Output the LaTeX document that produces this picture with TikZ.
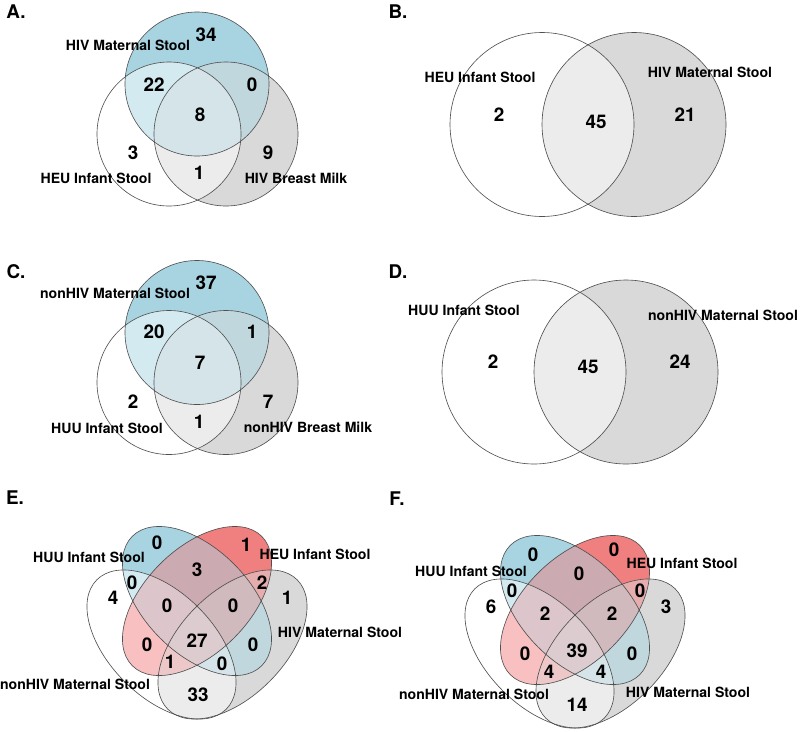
\documentclass[tikz,border=0pt]{standalone}
\usepackage{fontspec}
\setmainfont{TeX Gyre Heros}

% single sets
\definecolor{cB}{RGB}{168,212,226}
\definecolor{cR}{RGB}{240,128,128}
\definecolor{cG}{RGB}{217,217,217}
% overlaps (mean of the single colours, white counted as 255)
\definecolor{cBR}{RGB}{204,170,177}
\definecolor{cBG}{RGB}{193,215,222}
\definecolor{cBW}{RGB}{212,234,241}
\definecolor{cRG}{RGB}{229,173,173}
\definecolor{cRW}{RGB}{248,192,192}
\definecolor{cGW}{RGB}{236,236,236}
\definecolor{cBRG}{RGB}{208,186,190}
\definecolor{cBRW}{RGB}{221,198,203}
\definecolor{cBGW}{RGB}{213,228,233}
\definecolor{cRGW}{RGB}{237,200,200}
\definecolor{cBRGW}{RGB}{220,203,207}
\definecolor{vline}{HTML}{505050}

\tikzset{
  lbl/.style={font=\fontsize{10}{11}\selectfont\bfseries, inner sep=0pt},
  num/.style={font=\fontsize{13.4}{15}\selectfont\bfseries, inner sep=0pt},
  tag/.style={font=\fontsize{13.4}{15}\selectfont\bfseries, inner sep=0pt},
  rim/.style={draw=vline, line width=0.45pt},
  oval/.style={x radius=91.5, y radius=52.3},
  % the four ellipses of E (F is the same, shifted)
  setHUU/.style={shift={(197,601)}, rotate=-45},
  setHEU/.style={shift={(197,601)}, rotate=45},
  setHIV/.style={shift={(232.5,644.5)}, rotate=45},
  setNon/.style={shift={(161.5,644.5)}, rotate=-45},
}

\begin{document}
\begin{tikzpicture}[x=0.025cm, y=-0.025cm]
    \path[use as bounding box] (0,0) rectangle (800,731);

    % A. and C. three circles
    \foreach \dy in {0, 248.5} {
      \begin{scope}[shift={(0,\dy)}]
        \fill[cB] (197,84) circle [radius=72];
        \fill[cG] (226,134) circle [radius=72];
        \fill[white] (169,134) circle [radius=72];
        \begin{scope}
          \clip (197,84) circle [radius=72];
          \fill[cBG] (226,134) circle [radius=72];
        \end{scope}
        \begin{scope}
          \clip (197,84) circle [radius=72];
          \fill[cBW] (169,134) circle [radius=72];
        \end{scope}
        \begin{scope}
          \clip (226,134) circle [radius=72];
          \fill[cGW] (169,134) circle [radius=72];
        \end{scope}
        \begin{scope}
          \clip (197,84) circle [radius=72];
          \clip (226,134) circle [radius=72];
          \fill[cBGW] (169,134) circle [radius=72];
        \end{scope}
        \draw[rim] (197,84) circle [radius=72];
        \draw[rim] (226,134) circle [radius=72];
        \draw[rim] (169,134) circle [radius=72];
      \end{scope}
    }

    \node[tag] (tagA) at (16,12) {A.};
    \node[lbl] (aMat)  at (128,45)  {HIV Maternal Stool};
    \node[lbl] (aInf)  at (96,178)  {HEU Infant Stool};
    \node[lbl] (aMilk) at (296,178) {HIV Breast Milk};
    \node[num] (a1) at (206,35)  {34};
    \node[num] (a2) at (154,85)  {22};
    \node[num] (a3) at (252,85)  {0};
    \node[num] (a4) at (200,115) {8};
    \node[num] (a5) at (133,153) {3};
    \node[num] (a6) at (268,153) {9};
    \node[num] (a7) at (199,173) {1};

    \node[tag] (tagC) at (16,272) {C.};
    \node[lbl] (cMat)  at (115,293) {nonHIV Maternal Stool};
    \node[lbl] (cInf)  at (107,428) {HUU Infant Stool};
    \node[lbl] (cMilk) at (308,427) {nonHIV Breast Milk};
    \node[num] (c1) at (206,283) {37};
    \node[num] (c2) at (154,332) {20};
    \node[num] (c3) at (252,332) {1};
    \node[num] (c4) at (200,363) {7};
    \node[num] (c5) at (133,402) {2};
    \node[num] (c6) at (268,402) {7};
    \node[num] (c7) at (199,422) {1};

    % B. and D. two circles
    \foreach \dx/\dy in {0/0, -8/247.5} {
      \begin{scope}[shift={(\dx,\dy)}]
        \fill[cG] (634,124.5) circle [radius=92];
        \begin{scope}
          \clip (634,124.5) circle [radius=92];
          \fill[cGW] (542,124.5) circle [radius=92];
        \end{scope}
        \draw[rim] (634,124.5) circle [radius=92];
        \draw[rim] (542,124.5) circle [radius=92];
      \end{scope}
    }

    \node[tag] (tagB) at (398,12) {B.};
    \node[lbl] (bInf) at (480,77) {HEU Infant Stool};
    \node[lbl] (bMat) at (710,72) {HIV Maternal Stool};
    \node[num] (b1) at (499,115) {2};
    \node[num] (b2) at (596,122) {45};
    \node[num] (b3) at (685,115) {21};

    \node[tag] (tagD) at (398,272) {D.};
    \node[lbl] (dInf) at (464,310) {HUU Infant Stool};
    \node[lbl] (dMat) at (723,315) {nonHIV Maternal Stool};
    \node[num] (d1) at (493,362) {2};
    \node[num] (d2) at (588,367) {45};
    \node[num] (d3) at (680,362) {24};

    % E. and F. four ellipses
    \foreach \dx/\dy in {0/0, 378/9} {
      \begin{scope}[shift={(\dx,\dy)}]
        % one set
        \fill[cB, setHUU] (0,0) ellipse [oval];
        \fill[cR, setHEU] (0,0) ellipse [oval];
        \fill[cG, setHIV] (0,0) ellipse [oval];
        \fill[white, setNon] (0,0) ellipse [oval];
        % two sets
        \begin{scope}
          \clip[setHUU] (0,0) ellipse [oval];
          \fill[cBR, setHEU] (0,0) ellipse [oval];
          \fill[cBG, setHIV] (0,0) ellipse [oval];
          \fill[cBW, setNon] (0,0) ellipse [oval];
        \end{scope}
        \begin{scope}
          \clip[setHEU] (0,0) ellipse [oval];
          \fill[cRG, setHIV] (0,0) ellipse [oval];
          \fill[cRW, setNon] (0,0) ellipse [oval];
        \end{scope}
        \begin{scope}
          \clip[setHIV] (0,0) ellipse [oval];
          \fill[cGW, setNon] (0,0) ellipse [oval];
        \end{scope}
        % three sets
        \begin{scope}
          \clip[setHUU] (0,0) ellipse [oval];
          \clip[setHEU] (0,0) ellipse [oval];
          \fill[cBRG, setHIV] (0,0) ellipse [oval];
          \fill[cBRW, setNon] (0,0) ellipse [oval];
        \end{scope}
        \begin{scope}
          \clip[setHUU] (0,0) ellipse [oval];
          \clip[setHIV] (0,0) ellipse [oval];
          \fill[cBGW, setNon] (0,0) ellipse [oval];
        \end{scope}
        \begin{scope}
          \clip[setHEU] (0,0) ellipse [oval];
          \clip[setHIV] (0,0) ellipse [oval];
          \fill[cRGW, setNon] (0,0) ellipse [oval];
        \end{scope}
        % four sets
        \begin{scope}
          \clip[setHUU] (0,0) ellipse [oval];
          \clip[setHEU] (0,0) ellipse [oval];
          \clip[setHIV] (0,0) ellipse [oval];
          \fill[cBRGW, setNon] (0,0) ellipse [oval];
        \end{scope}
        \draw[rim, setHIV] (0,0) ellipse [oval];
        \draw[rim, setHUU] (0,0) ellipse [oval];
        \draw[rim, setHEU] (0,0) ellipse [oval];
        \draw[rim, setNon] (0,0) ellipse [oval];
      \end{scope}
    }

    \node[tag] (tagE) at (15,498) {E.};
    \node[lbl] (eHUU) at (89,557)  {HUU Infant Stool};
    \node[lbl] (eHEU) at (315,554) {HEU Infant Stool};
    \node[lbl] (eHIV) at (340,632) {HIV Maternal Stool};
    \node[lbl] (eNon) at (75,684)  {nonHIV Maternal Stool};
    \node[num] (e1)  at (157,543) {0};
    \node[num] (e2)  at (246,545) {1};
    \node[num] (e3)  at (197,570) {3};
    \node[num] (e4)  at (132,583) {0};
    \node[num] (e5)  at (262,583) {2};
    \node[num] (e6)  at (113,598) {4};
    \node[num] (e7)  at (287,598) {1};
    \node[num] (e8)  at (167,606) {0};
    \node[num] (e9)  at (233,606) {0};
    \node[num] (e10) at (147,645) {0};
    \node[num] (e11) at (197,641) {27};
    \node[num] (e12) at (253,645) {0};
    \node[num] (e13) at (170,662) {1};
    \node[num] (e14) at (222,664) {0};
    \node[num] (e15) at (198,695) {33};

    \node[tag] (tagF) at (397,499) {F.};
    \node[lbl] (fHUU) at (471,571) {HUU Infant Stool};
    \node[lbl] (fHEU) at (682,563) {HEU Infant Stool};
    \node[lbl] (fHIV) at (688,692) {HIV Maternal Stool};
    \node[lbl] (fNon) at (474,694) {nonHIV Maternal Stool};
    \node[num] (f1)  at (533,555) {0};
    \node[num] (f2)  at (614,550) {0};
    \node[num] (f3)  at (579,574) {0};
    \node[num] (f4)  at (512,591) {0};
    \node[num] (f5)  at (640,591) {0};
    \node[num] (f6)  at (491,607) {6};
    \node[num] (f7)  at (666,607) {3};
    \node[num] (f8)  at (545,614) {2};
    \node[num] (f9)  at (612,614) {2};
    \node[num] (f10) at (525,654) {0};
    \node[num] (f11) at (577,651) {39};
    \node[num] (f12) at (632,654) {0};
    \node[num] (f13) at (549,672) {4};
    \node[num] (f14) at (601,672) {4};
    \node[num] (f15) at (577,705) {14};
\end{tikzpicture}
\end{document}
